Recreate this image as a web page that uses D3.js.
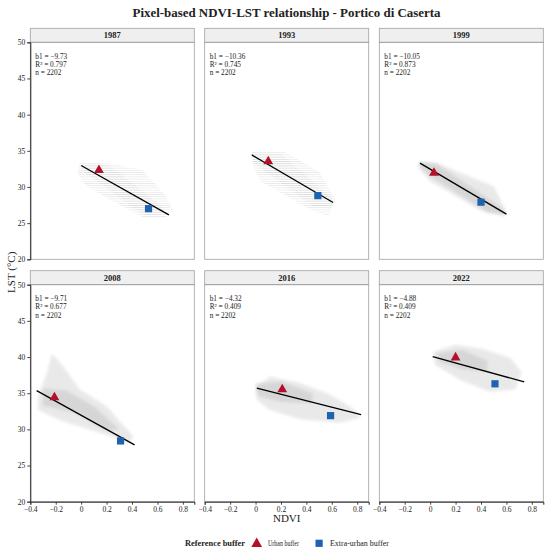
<!DOCTYPE html>
<html lang="en">
<head>
    <meta charset="UTF-8">
    <title>Pixel-based NDVI-LST relationship</title>
    <script src="https://d3js.org/d3.v7.min.js"></script>
    <style>
        body { margin: 0; background: #fff; }
        text { font-family: "Liberation Serif", "DejaVu Serif", serif; fill: #222; }
    </style>
</head>
<body>
    <div id="chart"></div>
    <script>

        // facet data
        const years = [1987, 1993, 1999, 2008, 2016, 2022];
        const slopes = ["−9.73", "−10.36", "−10.05", "−9.71", "−4.32", "−4.88"];
        const rSquared = ["0.797", "0.745", "0.873", "0.677", "0.409", "0.409"];
        const nObs = [2202, 2202, 2202, 2202, 2202, 2202];

        // fitted line end points (NDVI, LST)
        const fitX = [[0.00, 0.69], [-0.03, 0.61], [-0.08, 0.60], [-0.35, 0.42], [0.01, 0.83], [0.02, 0.74]];
        const fitY = [[32.96, 26.15], [34.43, 27.85], [33.29, 26.24], [35.36, 27.86], [35.69, 32.04], [40.06, 36.56]];

        // reference buffers
        const urbanX = [0.14, 0.10, 0.03, -0.21, 0.21, 0.20];
        const urbanY = [32.4, 33.6, 32.0, 34.5, 35.6, 40.0];
        const extraX = [0.53, 0.49, 0.40, 0.31, 0.59, 0.51];
        const extraY = [27.0, 28.8, 27.9, 28.4, 31.9, 36.3];

        // outline of each pixel cloud and of its dense core (NDVI, LST)
        const cloudHull = [
            [[-0.01, 33.4], [0.23, 33.2], [0.48, 32.4], [0.66, 28.9], [0.72, 26.8], [0.66, 25.7], [0.50, 25.7], [0.23, 28.2], [0.03, 30.3], [-0.03, 32.1]],
            [[-0.03, 34.9], [0.22, 34.9], [0.50, 32.1], [0.63, 28.2], [0.57, 25.9], [0.44, 26.8], [0.04, 30.8], [-0.02, 33.0]],
            [[-0.09, 33.5], [0.05, 33.3], [0.50, 30.1], [0.60, 26.6], [0.58, 25.9], [0.39, 26.8], [0.00, 30.8], [-0.09, 32.6]],
            [[-0.23, 40.5], [-0.15, 38.9], [-0.01, 35.5], [0.20, 33.2], [0.41, 29.0], [0.38, 28.1], [0.17, 29.4], [-0.17, 31.3], [-0.34, 32.7], [-0.34, 34.6], [-0.27, 37.8]],
            [[0.00, 35.7], [0.11, 37.3], [0.35, 36.4], [0.59, 34.8], [0.78, 32.7], [0.83, 31.6], [0.66, 30.9], [0.35, 31.4], [0.11, 32.7], [0.01, 34.1]],
            [[0.02, 40.7], [0.20, 41.7], [0.39, 41.2], [0.63, 39.9], [0.72, 37.9], [0.67, 35.5], [0.47, 35.2], [0.24, 36.8], [0.04, 38.9]]
        ];
        const cloudCore = [
            [[0.00, 33.2], [0.22, 33.0], [0.60, 27.9], [0.68, 26.3], [0.50, 26.0], [0.15, 30.5], [0.00, 32.3]],
            [[-0.02, 34.6], [0.20, 34.6], [0.60, 28.5], [0.60, 27.3], [0.45, 27.3], [0.05, 32.5], [-0.02, 33.5]],
            [[-0.08, 33.4], [0.05, 33.2], [0.55, 27.3], [0.60, 26.2], [0.45, 26.5], [0.00, 31.5], [-0.08, 32.8]],
            [[-0.30, 35.6], [-0.12, 35.4], [0.10, 33.2], [0.30, 30.0], [0.20, 29.8], [-0.05, 32.3], [-0.30, 33.3]],
            [[0.00, 36.3], [0.20, 36.6], [0.45, 35.0], [0.45, 33.6], [0.20, 33.8], [0.02, 34.6]],
            [[0.05, 40.5], [0.25, 41.0], [0.45, 39.5], [0.45, 38.0], [0.25, 38.3], [0.07, 39.4]]
        ];

        const xTicks = [-0.4, -0.2, 0, 0.2, 0.4, 0.6, 0.8];
        const yTicks = [20, 25, 30, 35, 40, 45, 50];

        const width = 550;
        const height = 556;
        const panelW = 164;
        const panelH = 217;
        const stripH = 14;
        const colX = [30.3, 204.7, 379.3];
        const rowY = [42.3, 284.7];
        const urbanColor = "#b5102b";
        const extraColor = "#1f63b0";

        const x = d3.scaleLinear().domain([-0.4, 0.89]).range([0, panelW]);
        const y = d3.scaleLinear().domain([20, 50]).range([panelH, 0]);

        const svg = d3.select("#chart")
            .append("svg")
            .attr("width", width)
            .attr("height", height);

        const defs = svg.append("defs");
        defs.append("filter").attr("id", "soft")
            .attr("x", "-20%").attr("y", "-20%").attr("width", "140%").attr("height", "140%")
            .append("feGaussianBlur").attr("stdDeviation", 1.6);
        defs.append("filter").attr("id", "softer")
            .attr("x", "-20%").attr("y", "-20%").attr("width", "140%").attr("height", "140%")
            .append("feGaussianBlur").attr("stdDeviation", 0.5);
        // LST in the older scenes is stepped, so the cloud shows horizontal bands
        const bands = defs.append("pattern").attr("id", "bands")
            .attr("patternUnits", "userSpaceOnUse")
            .attr("width", 4).attr("height", 2.2);
        bands.append("rect").attr("width", 4).attr("height", 0.8).attr("fill", "#d6d6d6");

        const line = d3.line().x(d => x(d[0])).y(d => y(d[1])).curve(d3.curveLinearClosed);

        svg.append("text")
            .attr("x", 286.5)
            .attr("y", 17)
            .attr("text-anchor", "middle")
            .attr("font-size", 13)
            .attr("font-weight", "bold")
            .attr("textLength", 308)
            .attr("lengthAdjust", "spacingAndGlyphs")
            .text("Pixel-based NDVI-LST relationship - Portico di Caserta");

        years.forEach((year, i) => {
            const col = i % 3;
            const row = Math.floor(i / 3);
            const banded = year < 1995;
            const g = svg.append("g")
                .attr("transform", `translate(${colX[col]},${rowY[row]})`);

            // strip
            g.append("rect")
                .attr("x", 0).attr("y", -stripH)
                .attr("width", panelW).attr("height", stripH)
                .attr("fill", "#efefef")
                .attr("stroke", "#a0a0a0").attr("stroke-width", 0.8);
            g.append("text")
                .attr("x", panelW / 2).attr("y", -stripH / 2)
                .attr("dy", "0.35em")
                .attr("text-anchor", "middle")
                .attr("font-size", 8.5)
                .attr("font-weight", "bold")
                .text(year);

            // pixel cloud
            g.append("path")
                .attr("d", line(cloudHull[i]))
                .attr("fill", banded ? "url(#bands)" : "#e4e4e4")
                .attr("opacity", banded ? 0.55 : 0.8)
                .attr("filter", banded ? "url(#softer)" : "url(#soft)");
            g.append("path")
                .attr("d", line(cloudCore[i]))
                .attr("fill", banded ? "url(#bands)" : "#cfcfcf")
                .attr("opacity", banded ? 0.6 : 0.7)
                .attr("filter", banded ? "url(#softer)" : "url(#soft)");

            // regression line
            g.append("line")
                .attr("x1", x(fitX[i][0])).attr("y1", y(fitY[i][0]))
                .attr("x2", x(fitX[i][1])).attr("y2", y(fitY[i][1]))
                .attr("stroke", "#000").attr("stroke-width", 1.3);

            // buffers
            g.append("path")
                .attr("d", d3.symbol(d3.symbolTriangle, 42)())
                .attr("transform", `translate(${x(urbanX[i])},${y(urbanY[i]) + 0.5})`)
                .attr("fill", urbanColor);
            g.append("rect")
                .attr("x", x(extraX[i]) - 3.6).attr("y", y(extraY[i]) - 3.6)
                .attr("width", 7.2).attr("height", 7.2)
                .attr("fill", extraColor);

            // stats
            const stats = [`b1 = ${slopes[i]}`, `R² = ${rSquared[i]}`, `n = ${nObs[i]}`];
            stats.forEach((s, k) => {
                g.append("text")
                    .attr("x", 5).attr("y", 16.5 + k * 8.3)
                    .attr("font-size", 7.3)
                    .attr("fill", "#333")
                    .text(s);
            });

            // panel border
            g.append("rect")
                .attr("width", panelW).attr("height", panelH)
                .attr("fill", "none")
                .attr("stroke", "#a0a0a0").attr("stroke-width", 0.8);

            if (col === 0) {
                const ay = g.append("g")
                    .call(d3.axisLeft(y).tickValues(yTicks).tickSize(3).tickPadding(2));
                ay.select(".domain").attr("stroke", "#222").attr("stroke-width", 1);
                ay.selectAll("line").attr("stroke", "#444");
                ay.selectAll("text").attr("font-size", 7.5).attr("fill", "#333")
                    .attr("font-family", "Liberation Serif");
            }
            if (row === 1) {
                const ax = g.append("g")
                    .attr("transform", `translate(0,${panelH})`)
                    .call(d3.axisBottom(x).tickValues(xTicks).tickSize(3).tickPadding(1.5)
                        .tickFormat(d => d === 0 ? "0" : d3.format(".1f")(d).replace("-", "−")));
                ax.select(".domain").attr("stroke", "#222").attr("stroke-width", 1);
                ax.selectAll("line").attr("stroke", "#444");
                ax.selectAll("text").attr("font-size", 7.5).attr("fill", "#333")
                    .attr("font-family", "Liberation Serif");
            }
        });

        // axis titles
        svg.append("text")
            .attr("x", 286.7).attr("y", 522)
            .attr("text-anchor", "middle")
            .attr("font-size", 11)
            .text("NDVI");
        svg.append("text")
            .attr("transform", "translate(15,272.3) rotate(-90)")
            .attr("text-anchor", "middle")
            .attr("font-size", 11)
            .text("LST (°C)");

        // legend
        const legend = svg.append("g").attr("transform", "translate(0,543.3)");
        legend.append("text")
            .attr("x", 185).attr("dy", "0.35em")
            .attr("font-size", 8).attr("font-weight", "bold")
            .attr("textLength", 60).attr("lengthAdjust", "spacingAndGlyphs")
            .text("Reference buffer");
        legend.append("path")
            .attr("d", d3.symbol(d3.symbolTriangle, 50)())
            .attr("transform", "translate(256.7,0.5)")
            .attr("fill", urbanColor);
        legend.append("text")
            .attr("x", 268).attr("dy", "0.35em")
            .attr("font-size", 7.5)
            .attr("fill", "#333")
            .attr("textLength", 31).attr("lengthAdjust", "spacingAndGlyphs")
            .text("Urban buffer");
        legend.append("rect")
            .attr("x", 315.5).attr("y", -3.6)
            .attr("width", 7.2).attr("height", 7.2)
            .attr("fill", extraColor);
        legend.append("text")
            .attr("x", 330).attr("dy", "0.35em")
            .attr("font-size", 7.5)
            .attr("fill", "#333")
            .attr("textLength", 59).attr("lengthAdjust", "spacingAndGlyphs")
            .text("Extra-urban buffer");

    </script>
</body>
</html>
